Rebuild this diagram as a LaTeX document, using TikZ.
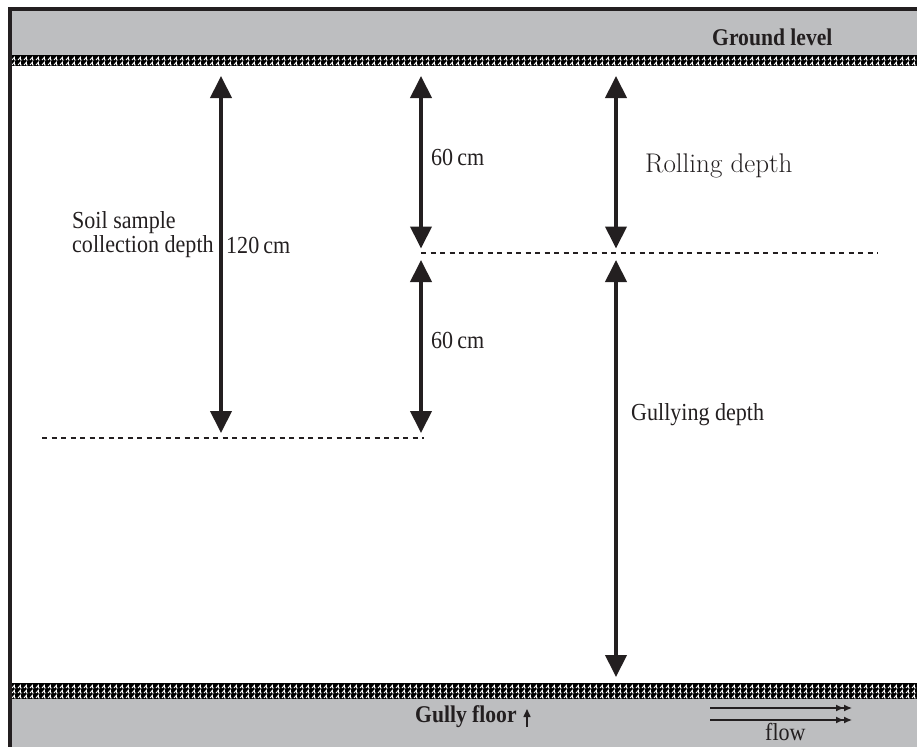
\documentclass[tikz,border=0pt]{standalone}
\usepackage{fontspec}
\newfontfamily\tnr{Liberation Serif}[FakeStretch=0.9]
\usetikzlibrary{arrows.meta}
\definecolor{band}{HTML}{BDBEC0}
\definecolor{ink}{HTML}{231F20}
\tikzset{
  dim/.style={draw=ink, line width=4pt, {Triangle[width=21pt,length=22pt]}-{Triangle[width=21pt,length=22pt]}},
  level/.style={draw=ink, line width=2pt, dash pattern=on 5pt off 4.5pt},
  lbl/.style={text=ink, inner sep=0pt, anchor=base west, font=\tnr\fontsize{24.5}{21.5}\selectfont},
  blbl/.style={lbl, font=\tnr\bfseries\fontsize{24}{21.5}\selectfont},
  hatchmark/.style={draw=white, line width=0.9pt},
  flowline/.style={draw=ink, line width=1.3pt, -{Latex[length=8pt,width=7pt]Latex[length=8pt,width=7pt]}},
}
\begin{document}
\begin{tikzpicture}[x=1pt,y=-1pt]
\useasboundingbox (0,0) rectangle (917,747);
% bands
\fill[band] (12,11) rectangle (917,55);
\fill[black] (12,55) rectangle (917,65.5);
\fill[black] (12,683) rectangle (917,699);
\fill[band] (12,699) rectangle (917,747);
\begin{scope}
\clip (12,55) rectangle (917,65.5);
\foreach \x in {12,18,...,917} {
  \foreach \y in {60,65} {
    \draw[hatchmark] (\x,\y) -- ++(2.5,-2.8) -- ++(0,2.8) -- ++(1.5,0);
  }
}
\end{scope}
\begin{scope}
\clip (12,683) rectangle (917,699);
\foreach \x in {12,18,...,917} {
  \foreach \y in {688,693,698} {
    \draw[hatchmark] (\x,\y) -- ++(2.5,-2.8) -- ++(0,2.8) -- ++(1.5,0);
  }
}
\end{scope}
% frame
\fill[ink] (8,7) rectangle (917,11);
\fill[ink] (8,7) rectangle (12,747);
% coordinates
\coordinate (a1t) at (221,76);
\coordinate (a1b) at (221,433);
\coordinate (a2t) at (421,76);
\coordinate (a2m) at (421,248.5);
\coordinate (a2n) at (421,260);
\coordinate (a2b) at (421,433);
\coordinate (a3t) at (616,76);
\coordinate (a3m) at (616,248.5);
\coordinate (a3n) at (616,260);
\coordinate (a3b) at (616,677);
\coordinate (d1s) at (42,438);
\coordinate (d1e) at (424,438);
\coordinate (d2s) at (421,252.5);
\coordinate (d2e) at (878,252.5);
% level lines
\draw[level] (d1s) -- (d1e);
\draw[level] (d2s) -- (d2e);
% dimension arrows
\draw[dim] (a1t) -- (a1b);
\draw[dim] (a2t) -- (a2m);
\draw[dim] (a2n) -- (a2b);
\draw[dim] (a3t) -- (a3m);
\draw[dim] (a3n) -- (a3b);
% labels
\node[blbl] (ground) at (712,45.5) {Ground level};
\node[lbl, align=left] (soil) at (72,252) {Soil sample\\collection depth};
\node[lbl] (d120) at (226,253) {120\,cm};
\node[lbl] (d60a) at (431,165) {60\,cm};
\node[lbl] (d60b) at (431,348) {60\,cm};
\node[text=ink, inner sep=0pt, anchor=base west, font=\fontsize{27}{30}\selectfont] (roll) at (645,172) {Rolling depth};
\node[lbl] (gully) at (631,420) {Gullying depth};
\node[blbl] (floor) at (415,722) {Gully floor};
\node[lbl] (flow) at (765,740) {flow};
% small up arrow
\coordinate (upb) at (527,727);
\coordinate (upt) at (527,709);
\draw[draw=ink, line width=1.5pt, -{Triangle[width=7pt,length=8pt]}] (upb) -- (upt);
% flow arrows
\coordinate (f1s) at (710,708);
\coordinate (f1e) at (852,708);
\coordinate (f2s) at (710,720);
\coordinate (f2e) at (852,720);
\draw[flowline] (f1s) -- (f1e);
\draw[flowline] (f2s) -- (f2e);
\end{tikzpicture}
\end{document}
